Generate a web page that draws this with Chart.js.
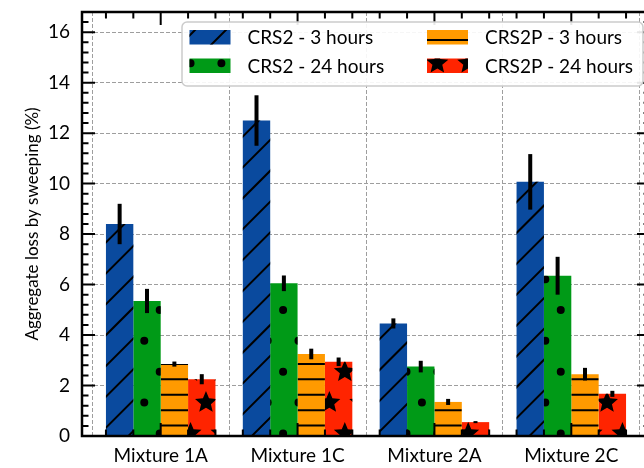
<!DOCTYPE html>
<html>
<head>
<meta charset="utf-8">
<script src="https://cdn.jsdelivr.net/npm/chart.js@4.4.1/dist/chart.umd.min.js"></script>
<style>
    html, body { margin: 0; padding: 0; background: #fff; overflow: hidden; }
    #wrap { position: relative; width: 660px; height: 468px; }
</style>
</head>
<body>
<div id="wrap"><canvas id="chart"></canvas></div>
<script>
// Chart data
const categories = ['Mixture 1A', 'Mixture 1C', 'Mixture 2A', 'Mixture 2C'];
const seriesLabels = ['CRS2 - 3 hours', 'CRS2 - 24 hours', 'CRS2P - 3 hours', 'CRS2P - 24 hours'];
const crs2_3h = [8.4, 12.5, 4.46, 10.07];
const crs2_3hErr = [0.8, 1.0, 0.2, 1.1];
const crs2_24h = [5.35, 6.05, 2.75, 6.35];
const crs2_24hErr = [0.48, 0.31, 0.23, 0.75];
const crs2p_3h = [2.85, 3.25, 1.35, 2.45];
const crs2p_3hErr = [0.1, 0.21, 0.12, 0.25];
const crs2p_24h = [2.25, 2.94, 0.55, 1.67];
const crs2p_24hErr = [0.2, 0.17, 0.04, 0.12];
const yTicks = [0, 2, 4, 6, 8, 10, 12, 14, 16];

const COLORS = ['#0a4a9e', '#009a17', '#ff9a00', '#ff2400'];
const HATCHES = ['/', '.', '-', '*'];
const FONT = 'Lato';

// Hatch lattice (canvas pixels)
const HP = 30.85;

function starPath(ctx, cx, cy, r) {
    const inner = r * 0.45;
    ctx.moveTo(cx, cy - r);
    for (let i = 1; i < 10; i++) {
        const a = -Math.PI / 2 + i * Math.PI / 5;
        const rr = i % 2 ? inner : r;
        ctx.lineTo(cx + rr * Math.cos(a), cy + rr * Math.sin(a));
    }
    ctx.closePath();
}

function drawHatch(ctx, kind, x0, y0, x1, y1) {
    ctx.save();
    ctx.beginPath();
    ctx.rect(x0, y0, x1 - x0, y1 - y0);
    ctx.clip();
    ctx.strokeStyle = '#000';
    ctx.fillStyle = '#000';
    ctx.lineWidth = 2;
    ctx.beginPath();
    if (kind === '/') {
        const kStart = Math.floor((x0 + y0 - 9.1) / HP) - 1;
        const kEnd = Math.ceil((x1 + y1 - 9.1) / HP) + 1;
        for (let k = kStart; k <= kEnd; k++) {
            const c = 9.1 + k * HP;
            ctx.moveTo(c - y1 - 2, y1 + 2);
            ctx.lineTo(c - y0 + 2, y0 - 2);
        }
        ctx.stroke();
    } else if (kind === '-') {
        const step = HP / 2;
        for (let k = Math.floor((y0 - 9.1) / step); k <= Math.ceil((y1 - 9.1) / step); k++) {
            const y = 9.1 + k * step;
            ctx.moveTo(x0, y);
            ctx.lineTo(x1, y);
        }
        ctx.stroke();
    } else {
        const r0 = Math.floor((y0 - 1.5) / HP) - 1;
        const r1 = Math.ceil((y1 - 1.5) / HP) + 1;
        for (let r = r0; r <= r1; r++) {
            const y = 1.5 + r * HP;
            const off = 5.45 + (Math.abs(r) % 2 ? HP / 2 : 0);
            for (let k = Math.floor((x0 - off) / HP) - 1; k <= Math.ceil((x1 - off) / HP) + 1; k++) {
                const x = off + k * HP;
                if (kind === '.') {
                    ctx.moveTo(x + 4, y);
                    ctx.arc(x, y, 4, 0, Math.PI * 2);
                } else {
                    starPath(ctx, x, y, 11.5);
                }
            }
        }
        ctx.fill();
    }
    ctx.restore();
}

// Hatches and error bars over the bars
const barExtras = {
    id: 'barExtras',
    afterDatasetsDraw(chart) {
        const ctx = chart.ctx;
        const yScale = chart.scales.y;
        chart.data.datasets.forEach((ds, di) => {
            const meta = chart.getDatasetMeta(di);
            meta.data.forEach((bar, i) => {
                const p = bar.getProps(['x', 'y', 'base', 'width'], true);
                drawHatch(ctx, ds.hatch, p.x - p.width / 2, p.y, p.x + p.width / 2, p.base);
            });
        });
        chart.data.datasets.forEach((ds, di) => {
            const meta = chart.getDatasetMeta(di);
            ctx.save();
            ctx.strokeStyle = '#000';
            ctx.lineWidth = 4;
            meta.data.forEach((bar, i) => {
                const v = ds.data[i].y, e = ds.errors[i];
                ctx.beginPath();
                ctx.moveTo(bar.x, yScale.getPixelForValue(v + e));
                ctx.lineTo(bar.x, yScale.getPixelForValue(v - e));
                ctx.stroke();
            });
            ctx.restore();
        });
    }
};

// Frame with inward ticks on all four sides, then the legend box
const frameAndLegend = {
    id: 'frameAndLegend',
    afterDraw(chart) {
        const ctx = chart.ctx;
        const a = chart.chartArea;
        const xs = chart.scales.x, ys = chart.scales.y;
        ctx.save();
        ctx.strokeStyle = '#000';
        ctx.lineWidth = 2;
        ctx.beginPath();
        for (let i = 0; i <= 42; i++) {
            const v = i * 0.4;
            const py = ys.getPixelForValue(v);
            const len = Math.abs(v / 2 - Math.round(v / 2)) < 1e-6 ? 13 : 6.5;
            ctx.moveTo(a.left, py); ctx.lineTo(a.left + len, py);
            ctx.moveTo(a.right, py); ctx.lineTo(a.right - len, py);
        }
        for (let i = -2; i <= 17; i++) {
            const v = i / 5;
            const px = xs.getPixelForValue(v);
            const len = i % 5 === 0 ? 13 : 6.5;
            ctx.moveTo(px, a.top); ctx.lineTo(px, a.top + len);
            ctx.moveTo(px, a.bottom); ctx.lineTo(px, a.bottom - len);
        }
        ctx.stroke();
        ctx.lineWidth = 2.5;
        ctx.strokeRect(a.left, a.top, a.right - a.left, a.bottom - a.top);
        ctx.restore();

        // Legend
        ctx.save();
        const bx = 182, by = 22, bw = 461, bh = 64;
        ctx.beginPath();
        ctx.roundRect(bx, by, bw, bh, 5);
        ctx.fillStyle = 'rgba(255,255,255,0.9)';
        ctx.fill();
        ctx.strokeStyle = '#cccccc';
        ctx.lineWidth = 1.5;
        ctx.stroke();
        const colX = [189.5, 427];
        const rowY = [30, 58.5];
        ctx.font = '19px ' + FONT;
        ctx.textBaseline = 'middle';
        ctx.fillStyle = '#000';
        chart.data.datasets.forEach((ds, di) => {
            const col = Math.floor(di / 2), row = di % 2;
            const x = colX[col], y = rowY[row];
            ctx.fillStyle = ds.backgroundColor;
            ctx.fillRect(x, y, 41, 14.5);
            drawHatch(ctx, ds.hatch, x, y, x + 41, y + 14.5);
            ctx.fillStyle = '#000';
            ctx.fillText(ds.label, x + 58, y + 8);
        });
        ctx.restore();
    }
};

function makeDataset(i, values, errors) {
    return {
        label: seriesLabels[i],
        data: values.map((v, k) => ({ x: k, y: v })),
        errors: errors,
        hatch: HATCHES[i],
        backgroundColor: COLORS[i],
        borderWidth: 0
    };
}

function noScalePadding(s) {
    s.paddingTop = 0;
    s.paddingBottom = 0;
    s.paddingLeft = 0;
    s.paddingRight = 0;
}

new Chart(document.getElementById('chart'), {
    type: 'bar',
    data: {
        datasets: [
            makeDataset(0, crs2_3h, crs2_3hErr),
            makeDataset(1, crs2_24h, crs2_24hErr),
            makeDataset(2, crs2p_3h, crs2p_3hErr),
            makeDataset(3, crs2p_24h, crs2p_24hErr)
        ]
    },
    options: {
        responsive: true,
        maintainAspectRatio: false,
        animation: false,
        devicePixelRatio: 1,
        categoryPercentage: 0.8,
        barPercentage: 1.0,
        layout: { padding: { top: 12, right: 10, left: 0, bottom: 0 } },
        plugins: {
            legend: { display: false },
            tooltip: { enabled: false }
        },
        scales: {
            x: {
                type: 'linear',
                min: -0.575,
                max: 3.575,
                offset: false,
                afterBuildTicks: s => { s.ticks = categories.map((c, i) => ({ value: i })); },
                afterFit: s => { s.height = 32; noScalePadding(s); },
                grid: { color: '#9e9e9e', lineWidth: 1, drawTicks: false },
                border: { display: false, dash: [4, 2] },
                ticks: {
                    padding: 8,
                    color: '#000',
                    font: { family: FONT, size: 19 },
                    maxRotation: 0,
                    autoSkip: false,
                    callback: v => categories[v]
                }
            },
            y: {
                min: 0,
                max: 16.8,
                afterBuildTicks: s => { s.ticks = yTicks.map(v => ({ value: v })); },
                afterFit: s => { s.width = 82; noScalePadding(s); },
                grid: { color: '#9e9e9e', lineWidth: 1, drawTicks: false },
                border: { display: false, dash: [4, 2] },
                ticks: {
                    padding: 12,
                    color: '#000',
                    font: { family: FONT, size: 19 }
                },
                title: {
                    display: true,
                    text: 'Aggregate loss by sweeping (%)',
                    color: '#000',
                    font: { family: FONT, size: 17 },
                    padding: { top: 22, bottom: 0 }
                }
            }
        }
    },
    plugins: [barExtras, frameAndLegend]
});
</script>
</body>
</html>
